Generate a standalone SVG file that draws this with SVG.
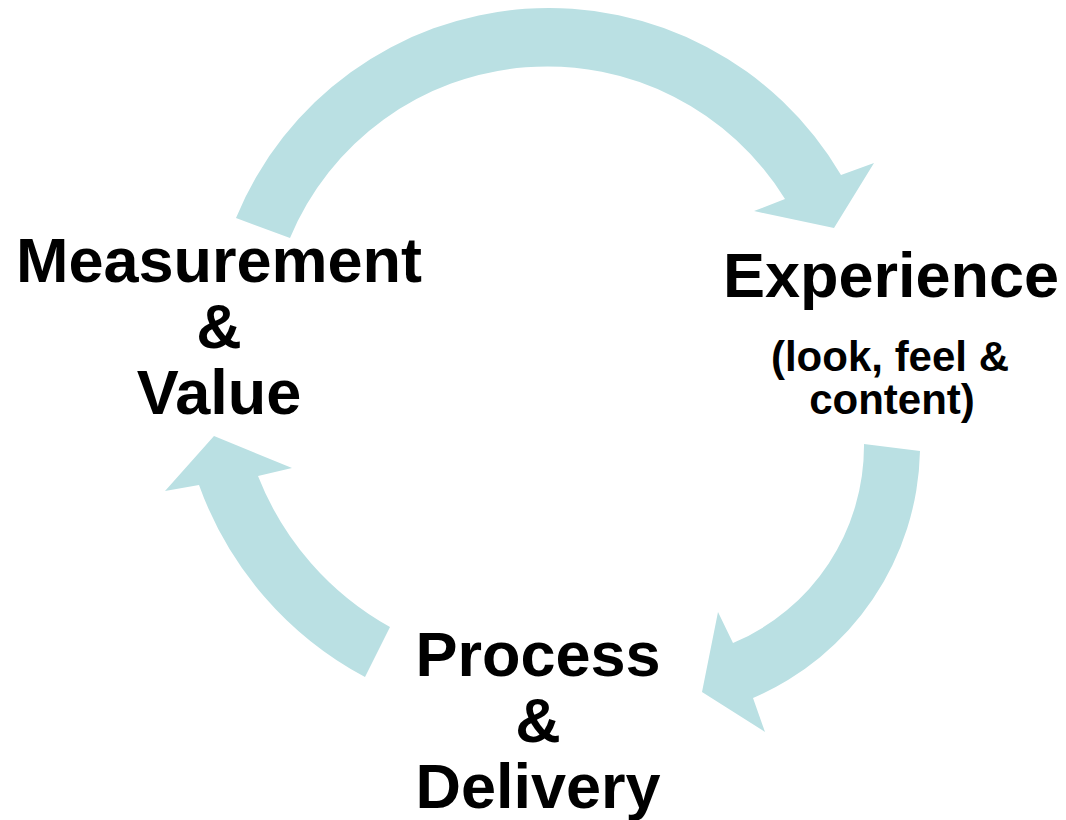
<svg xmlns="http://www.w3.org/2000/svg" width="1066" height="820" viewBox="0 0 1066 820">
<style>
.arrow{fill:#bae0e3;stroke:none}
.lbl{font-family:"Liberation Sans",Arial,sans-serif;font-weight:bold;fill:#000;text-anchor:middle}
.big{font-size:63px}
.small{font-size:42px}
</style>
<rect x="0" y="0" width="1066" height="820" fill="#fff"/>
<g id="connectors">
<path id="arrow-top" class="arrow" d="M 236 218 A 338.5 338.5 0 0 1 841 175 L 874 163 L 834 228 L 754 211 L 785 199 A 279 279 0 0 0 290 238 Z"/>
<path id="arrow-right" class="arrow" d="M 864 444 L 920 451 A 275 275 0 0 1 753 698 L 765 732 L 702 692 L 718 612 L 733 643 A 214 214 0 0 0 864 444 Z"/>
<path id="arrow-left" class="arrow" d="M 365 677 A 353 353 0 0 1 199 485 L 165 491 L 214 436 L 292 468 L 258 476 A 297 297 0 0 0 390 627 Z"/>
</g>
<g id="node-measurement">
<text class="lbl big" x="219" y="282">Measurement</text>
<text class="lbl big" x="219" y="348">&amp;</text>
<text class="lbl big" x="219" y="414">Value</text>
</g>
<g id="node-experience">
<text class="lbl big" x="891" y="297">Experience</text>
<text class="lbl small" x="890" y="371">(look, feel &amp;</text>
<text class="lbl small" x="892" y="414">content)</text>
</g>
<g id="node-process">
<text class="lbl big" x="538" y="676">Process</text>
<text class="lbl big" x="538" y="742">&amp;</text>
<text class="lbl big" x="538" y="808">Delivery</text>
</g>
</svg>
